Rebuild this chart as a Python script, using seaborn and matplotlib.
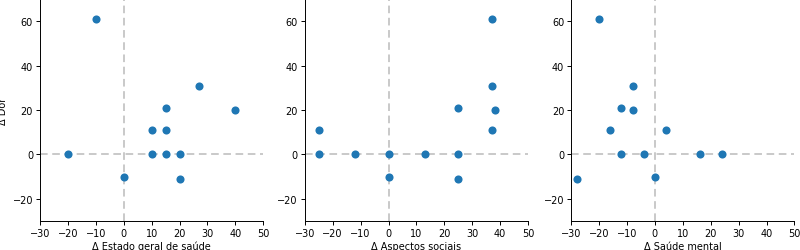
import matplotlib
matplotlib.use("Agg")
import matplotlib.pyplot as plt
import numpy as np
import pandas as pd
import seaborn as sns

# Δ Dor against each other domain
estado_x = [-10, 27, 15, 40, 10, 15, -20, 10, 15, 20, 0, 20]
estado_y = [61, 31, 21, 20, 11, 11, 0, 0, 0, 0, -10, -11]

sociais_x = [37, 37, 25, 38, -25, 37, -25, -12, 0, 13, 25, 0, 25]
sociais_y = [61, 31, 21, 20, 11, 11, 0, 0, 0, 0, 0, -10, -11]

mental_x = [-20, -8, -12, -8, -16, 4, -12, -4, 16, 24, 0, -28]
mental_y = [61, 31, 21, 20, 11, 11, 0, 0, 0, 0, -10, -11]

panels = [
    ("Δ Estado geral de saúde", estado_x, estado_y),
    ("Δ Aspectos sociais", sociais_x, sociais_y),
    ("Δ Saúde mental", mental_x, mental_y),
]

fig = plt.figure(figsize=(8, 2.51), dpi=100)
lefts = [0.05, 0.381, 0.714]
for i, (label, xs, ys) in enumerate(panels):
    ax = fig.add_axes([lefts[i], 0.115, 0.279, 0.885])
    df = pd.DataFrame({"x": xs, "y": ys})
    ax.axhline(0, color="#bbbbbb", linestyle=(0, (5, 3)), linewidth=1.1, zorder=1)
    ax.axvline(0, color="#bbbbbb", linestyle=(0, (5, 3)), linewidth=1.1, zorder=1)
    sns.scatterplot(data=df, x="x", y="y", ax=ax, color="#1f77b4",
                    s=34, linewidth=0, zorder=3)
    ax.set_xlim(-30, 50)
    ax.set_ylim(-30, 70)
    ax.set_xticks(np.arange(-30, 51, 10))
    ax.set_yticks([-20, 0, 20, 40, 60])
    ax.set_xlabel(label, fontsize=7, labelpad=2)
    ax.set_ylabel("Δ Dor" if i == 0 else "", fontsize=7, labelpad=3)
    ax.tick_params(labelsize=7, length=3, width=0.7, pad=2)
    for sp in ax.spines.values():
        sp.set_linewidth(0.7)
    sns.despine(ax=ax)

fig.savefig("out.png", dpi=100)
